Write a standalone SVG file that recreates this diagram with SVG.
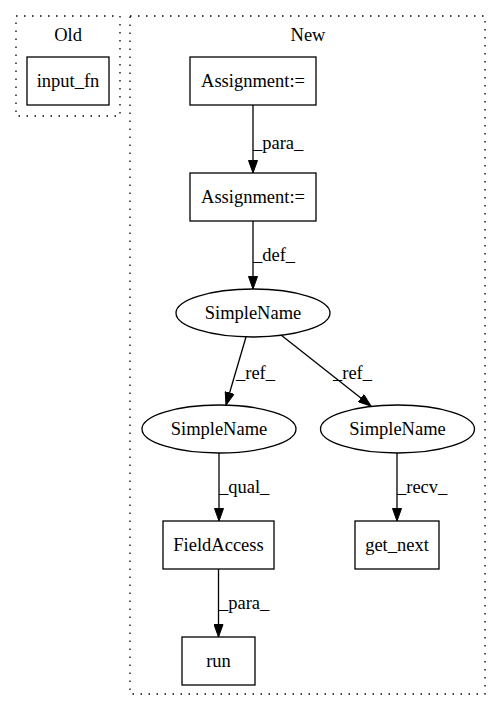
<svg xmlns="http://www.w3.org/2000/svg" width="501" height="712" viewBox="0 0 501 712" font-family="'Liberation Serif', 'Times New Roman', Times, 'DejaVu Serif', serif">
<style>
text{font-family:'Liberation Serif','Times New Roman',Times,'DejaVu Serif',serif;font-size:18.5px;fill:#000;text-anchor:middle}
.lbl{text-anchor:start}
.node{fill:none;stroke:#000;stroke-width:1.3}
.cluster{fill:none;stroke:#000;stroke-width:1.3;stroke-dasharray:1.5,6.5}
.edge{fill:none;stroke:#000;stroke-width:1.3}
</style>
<defs>
<marker id="arr" markerUnits="userSpaceOnUse" markerWidth="14" markerHeight="10" refX="13" refY="5" orient="auto" viewBox="0 0 14 10">
<polygon points="0.5,0.5 13,5 0.5,9.5" fill="#000" stroke="#000" stroke-width="1"/>
</marker>
</defs>
<rect width="501" height="712" fill="#fff"/>
<g id="cluster_old">
<rect class="cluster" x="16" y="16" width="104" height="100"/>
<text x="68" y="41">Old</text>
</g>
<g id="cluster_new">
<rect class="cluster" x="130" y="16" width="355" height="678"/>
<text x="308" y="41">New</text>
</g>
<g id="input_fn">
<rect class="node" x="27" y="57" width="82" height="48"/>
<text x="68" y="87">input_fn</text>
</g>
<g id="assign1">
<rect class="node" x="190" y="57" width="126" height="48"/>
<text x="253" y="87">Assignment:=</text>
</g>
<g id="assign2">
<rect class="node" x="190" y="173" width="126" height="48"/>
<text x="253" y="203">Assignment:=</text>
</g>
<g id="simplename_top">
<ellipse class="node" cx="253" cy="313" rx="77" ry="24"/>
<text x="253" y="319">SimpleName</text>
</g>
<g id="simplename_left">
<ellipse class="node" cx="219" cy="429" rx="77" ry="24"/>
<text x="219" y="435">SimpleName</text>
</g>
<g id="simplename_right">
<ellipse class="node" cx="397.5" cy="429" rx="77" ry="24"/>
<text x="397.5" y="435">SimpleName</text>
</g>
<g id="fieldaccess">
<rect class="node" x="163" y="521" width="111" height="48"/>
<text x="218.5" y="551">FieldAccess</text>
</g>
<g id="get_next">
<rect class="node" x="355" y="521" width="84" height="48"/>
<text x="397" y="551">get_next</text>
</g>
<g id="run">
<rect class="node" x="182" y="637" width="73" height="48"/>
<text x="218.5" y="667">run</text>
</g>
<g id="connectors">
<path class="edge" d="M253,105 L253,173" marker-end="url(#arr)"/>
<text class="lbl" x="253" y="149">_para_</text>
<path class="edge" d="M253,221 L253,289" marker-end="url(#arr)"/>
<text class="lbl" x="253" y="261">_def_</text>
<path class="edge" d="M246,337 L226,405" marker-end="url(#arr)"/>
<text class="lbl" x="236" y="379">_ref_</text>
<path class="edge" d="M281,335 L371,406" marker-end="url(#arr)"/>
<text class="lbl" x="333" y="379">_ref_</text>
<path class="edge" d="M219,453 L219,521" marker-end="url(#arr)"/>
<text class="lbl" x="219" y="493">_qual_</text>
<path class="edge" d="M397,453 L397,521" marker-end="url(#arr)"/>
<text class="lbl" x="397" y="493">_recv_</text>
<path class="edge" d="M218.5,569 L218.5,637" marker-end="url(#arr)"/>
<text class="lbl" x="219" y="609">_para_</text>
</g>
</svg>
